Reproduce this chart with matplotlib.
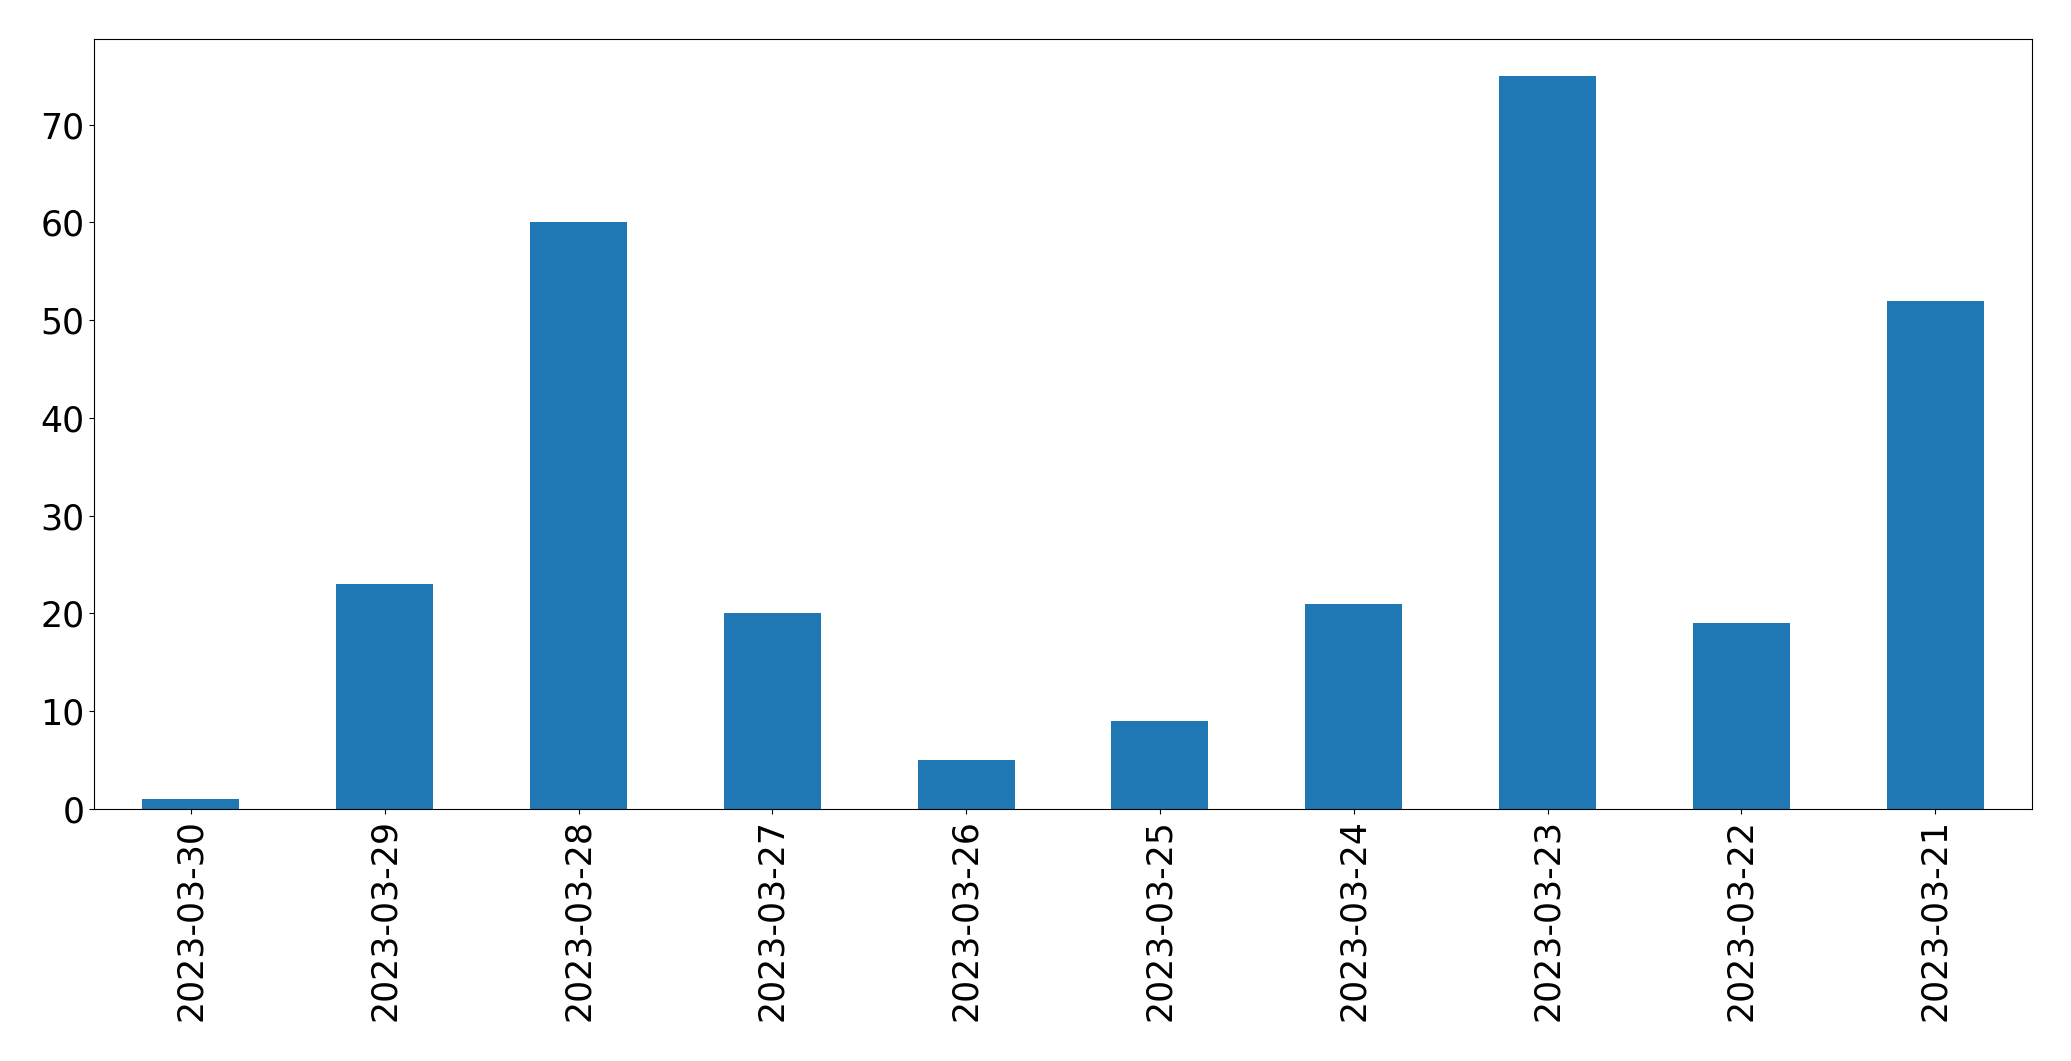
import matplotlib
matplotlib.use("Agg")
import matplotlib.pyplot as plt

dates = ["2023-03-30", "2023-03-29", "2023-03-28", "2023-03-27", "2023-03-26",
         "2023-03-25", "2023-03-24", "2023-03-23", "2023-03-22", "2023-03-21"]
counts = [1, 23, 60, 20, 5, 9, 21, 75, 19, 52]

fig = plt.figure(figsize=(20.71, 10.61), dpi=100)
ax = fig.add_axes([94 / 2071, 1 - 809 / 1061, (2032 - 94) / 2071, (809 - 39) / 1061])
x = list(range(len(dates)))
ax.bar(x, counts, width=0.5, color="#1f77b4")
ax.set_xlim(-0.5, len(dates) - 0.5)
ax.set_ylim(0, max(counts) * 1.05)
ax.set_xticks(x)
ax.set_xticklabels(dates, rotation=90)
ax.tick_params(axis="both", labelsize=25)
fig.savefig("out.png", dpi=100)
